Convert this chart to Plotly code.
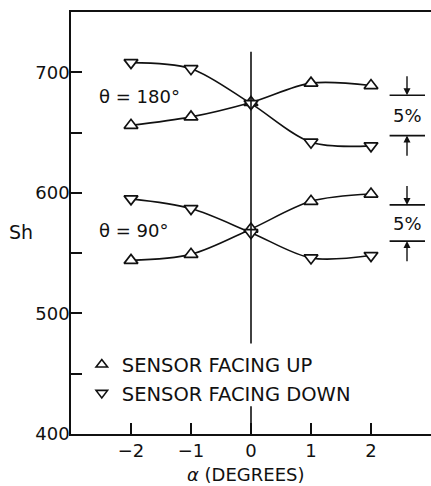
import plotly.graph_objects as go

alpha = [-2, -1, 0, 1, 2]
sh180_up = [656, 663, 675, 691, 689]
sh180_down = [708, 703, 674, 642, 639]
sh90_up = [544, 549, 570, 593, 599]
sh90_down = [595, 587, 567, 546, 548]

x_ticks = [-2, -1, 0, 1, 2]
x_ticklabels = ["\u22122", "\u22121", "0", "1", "2"]
y_ticks = [400, 500, 600, 700]

# 5% brackets: (upper level, lower level)
bracket_levels = [(681, 647.5), (590, 560)]

FONT = "DejaVu Sans"
BLACK = "#111111"

fig = go.Figure()

series = [
    (sh180_up, "triangle-up"),
    (sh180_down, "triangle-down"),
    (sh90_up, "triangle-up"),
    (sh90_down, "triangle-down"),
]
for ys, sym in series:
    fig.add_trace(go.Scatter(
        x=alpha, y=ys, mode="lines",
        line=dict(color=BLACK, width=1.6, shape="spline", smoothing=0.9),
        showlegend=False, hoverinfo="skip"))
for ys, sym in series:
    fig.add_trace(go.Scatter(
        x=alpha, y=ys, mode="markers",
        marker=dict(symbol=sym, size=12, color="white",
                    line=dict(color=BLACK, width=1.7)),
        showlegend=False))

# legend-only traces
fig.add_trace(go.Scatter(x=[None], y=[None], mode="markers", name="SENSOR FACING UP",
                         marker=dict(symbol="triangle-up", size=10, color="white",
                                     line=dict(color=BLACK, width=1.6))))
fig.add_trace(go.Scatter(x=[None], y=[None], mode="markers", name="SENSOR FACING DOWN",
                         marker=dict(symbol="triangle-down", size=10, color="white",
                                     line=dict(color=BLACK, width=1.6))))

shapes = []
# vertical reference line at alpha = 0 (broken around the legend)
shapes.append(dict(type="line", xref="x", yref="y", x0=0, x1=0, y0=475, y1=717,
                   line=dict(color=BLACK, width=1.6)))
shapes.append(dict(type="line", xref="x", yref="y", x0=0, x1=0, y0=400, y1=423,
                   line=dict(color=BLACK, width=1.6)))

annotations = []
for hi, lo in bracket_levels:
    for lvl in (hi, lo):
        shapes.append(dict(type="line", xref="x", yref="y", x0=2.31, x1=2.9, y0=lvl, y1=lvl,
                           line=dict(color=BLACK, width=1.6)))
    # arrows: pointing down onto the upper line, up onto the lower line
    annotations.append(dict(x=2.6, y=hi, ax=2.6, ay=hi + 17, xref="x", yref="y",
                            axref="x", ayref="y", showarrow=True, arrowhead=2,
                            arrowsize=1, arrowwidth=1.4, arrowcolor=BLACK, text=""))
    annotations.append(dict(x=2.6, y=lo, ax=2.6, ay=lo - 18, xref="x", yref="y",
                            axref="x", ayref="y", showarrow=True, arrowhead=2,
                            arrowsize=1, arrowwidth=1.4, arrowcolor=BLACK, text=""))
    annotations.append(dict(x=2.6, y=(hi + lo) / 2, xref="x", yref="y", text="5%",
                            xanchor="center", yanchor="middle",
                            showarrow=False, font=dict(family=FONT, size=18, color=BLACK)))

annotations.append(dict(x=-2.56, y=680, xref="x", yref="y", xanchor="left", yanchor="middle",
                        text="\u03b8 = 180\u00b0", showarrow=False,
                        font=dict(family=FONT, size=18, color=BLACK)))
annotations.append(dict(x=-2.56, y=569, xref="x", yref="y", xanchor="left", yanchor="middle",
                        text="\u03b8 = 90\u00b0", showarrow=False,
                        font=dict(family=FONT, size=18, color=BLACK)))
annotations.append(dict(x=-0.14, y=0.478, xref="paper", yref="paper",
                        xanchor="center", yanchor="middle",
                        text="Sh", showarrow=False,
                        font=dict(family=FONT, size=19, color=BLACK)))
annotations.append(dict(x=0.486, y=-0.096, xref="paper", yref="paper",
                        xanchor="center", yanchor="middle",
                        text="<i>\u03b1</i> (DEGREES)", showarrow=False,
                        font=dict(family=FONT, size=18, color=BLACK)))

fig.update_layout(
    width=431, height=486,
    margin=dict(l=71, r=0, t=12, b=52),
    paper_bgcolor="white", plot_bgcolor="white",
    shapes=shapes, annotations=annotations,
    font=dict(family=FONT, size=18, color=BLACK),
    legend=dict(x=0.03, y=0.21, xanchor="left", yanchor="top",
                bgcolor="rgba(0,0,0,0)", font=dict(family=FONT, size=19.5, color=BLACK),
                tracegroupgap=0, itemwidth=30),
    xaxis=dict(range=[-3, 3], tickvals=x_ticks, ticktext=x_ticklabels,
               ticks="inside", ticklen=11, tickwidth=1.5, tickcolor=BLACK,
               showline=True, linecolor=BLACK, linewidth=1.6, mirror=True,
               showgrid=False, zeroline=False,
               tickfont=dict(family=FONT, size=18, color=BLACK)),
    yaxis=dict(range=[400, 750], tickvals=y_ticks,
               ticks="inside", ticklen=11, tickwidth=1.5, tickcolor=BLACK,
               ticklabelstandoff=-4,
               minor=dict(tickvals=[450, 550, 650], ticks="inside", ticklen=11,
                          tickwidth=1.5, tickcolor=BLACK),
               showline=True, linecolor=BLACK, linewidth=1.6, mirror=False,
               showgrid=False, zeroline=False,
               tickfont=dict(family=FONT, size=18, color=BLACK)),
)

fig.write_html("out.html", config={"displayModeBar": False},
               post_script="document.body.style.margin='0';document.body.style.overflow='hidden';")
